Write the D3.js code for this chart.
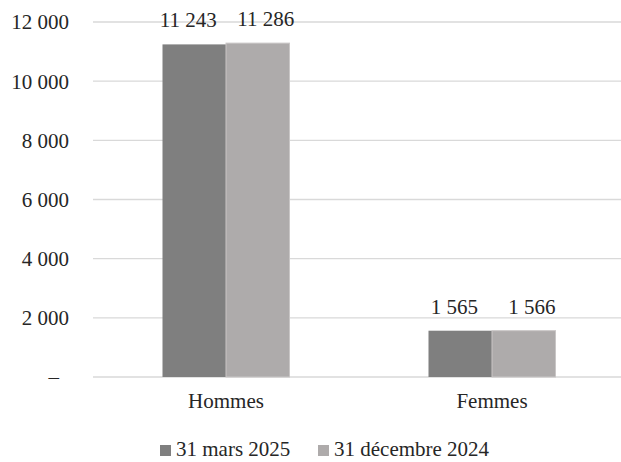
<!DOCTYPE html>
<html>
<head>
<meta charset="utf-8">
<script src="https://cdn.jsdelivr.net/npm/d3@7"></script>
</head>
<body style="margin:0;background:#fff">
<div id="chart"></div>
<script>
// data
var categories = ["Hommes", "Femmes"];
var seriesNames = ["31 mars 2025", "31 décembre 2024"];
var mars2025 = [11243, 1565];
var dec2024 = [11286, 1566];
var yTicks = [0, 2000, 4000, 6000, 8000, 10000, 12000];

var colors = ["#7f7f7f", "#aeabab"];
var FONT = "Liberation Serif";
var TXT = "#262626";

const width = 621, height = 462;
const margin = {top: 22, right: 0, bottom: 85, left: 93};

const svg = d3.select("#chart")
    .append("svg")
    .attr("width", width)
    .attr("height", height)
    .attr("font-family", FONT)
    .attr("font-size", 21);

var x = d3.scaleBand()
    .domain(categories)
    .range([margin.left, margin.left + 532])
    .paddingInner(0)
    .paddingOuter(0);

var x1 = d3.scaleBand()
    .domain(seriesNames)
    .range([0, 127])
    .padding(0);

var y = d3.scaleLinear()
    .domain([0, 12000])
    .range([height - margin.bottom, margin.top]);

var fmt = d => d3.format(",")(d).replace(/,/g, " ");

// gridlines
svg.append("g")
    .selectAll("line")
    .data(yTicks)
    .join("line")
    .attr("x1", margin.left)
    .attr("x2", width)
    .attr("y1", d => y(d))
    .attr("y2", d => y(d))
    .attr("stroke", "#d9d9d9")
    .attr("stroke-width", 1.3);

// y axis labels
var yAxis = svg.append("g")
    .attr("transform", "translate(69,0)")
    .call(d3.axisLeft(y).tickValues(yTicks).tickSize(0).tickPadding(0)
        .tickFormat(d => d === 0 ? "–" : fmt(d)));
yAxis.attr("font-family", FONT).attr("font-size", 21);
yAxis.select(".domain").remove();
yAxis.selectAll("text")
    .attr("fill", TXT)
    .attr("dy", "0.33em")
    .attr("dx", d => d === 0 ? -10 : 0);

// bars
var rows = categories.map((c, i) => ({cat: c, values: [mars2025[i], dec2024[i]]}));

var groups = svg.append("g")
    .selectAll("g")
    .data(rows)
    .join("g")
    .attr("transform", d => "translate(" + (x(d.cat) + (x.bandwidth() - 127) / 2) + ",0)");

groups.selectAll("rect")
    .data(d => d.values.map((v, j) => ({name: seriesNames[j], value: v, j: j})))
    .join("rect")
    .attr("x", d => x1(d.name))
    .attr("width", x1.bandwidth())
    .attr("y", d => y(d.value))
    .attr("height", d => y(0) - y(d.value))
    .attr("fill", d => colors[d.j])
    .attr("stroke", d => d.j === 1 ? "#c9c6c6" : "none")
    .attr("stroke-width", 1);

groups.selectAll("text")
    .data(d => d.values.map((v, j) => ({name: seriesNames[j], value: v, j: j})))
    .join("text")
    .attr("x", d => x1(d.name) + x1.bandwidth() / 2 + (d.j === 0 ? -6 : 8))
    .attr("y", d => y(d.value) - 17)
    .attr("text-anchor", "middle")
    .attr("fill", TXT)
    .text(d => fmt(d.value));

// category labels
svg.append("g")
    .selectAll("text")
    .data(categories)
    .join("text")
    .attr("x", d => x(d) + x.bandwidth() / 2)
    .attr("y", 408)
    .attr("text-anchor", "middle")
    .attr("fill", TXT)
    .text(d => d);

// legend
var legendX = [160, 318];
var legend = svg.append("g")
    .selectAll("g")
    .data(seriesNames)
    .join("g")
    .attr("transform", (d, i) => "translate(" + legendX[i] + ",445)");

legend.append("rect")
    .attr("width", 11)
    .attr("height", 11)
    .attr("fill", (d, i) => colors[i]);

legend.append("text")
    .attr("x", 16)
    .attr("y", 11)
    .attr("fill", TXT)
    .text(d => d);
</script>
</body>
</html>
